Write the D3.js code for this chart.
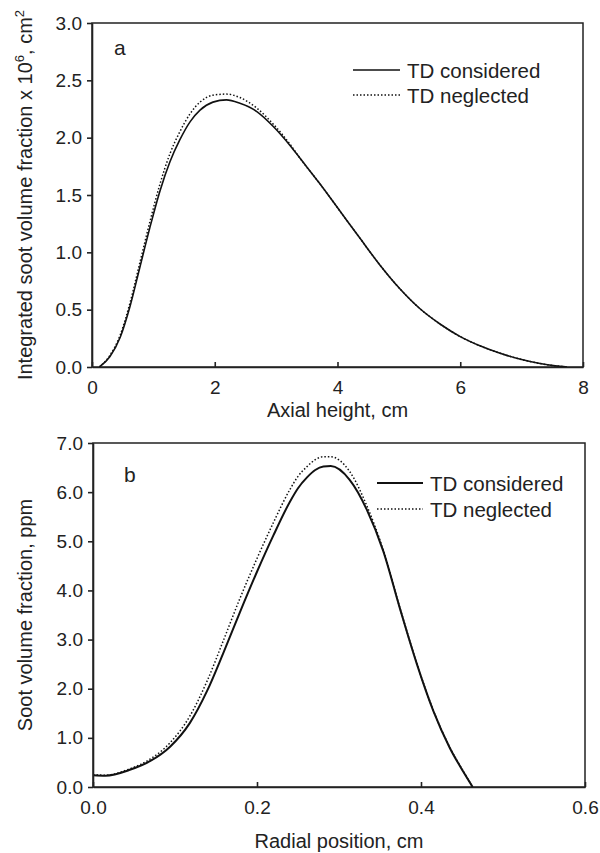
<!DOCTYPE html>
<html>
<head>
<meta charset="utf-8">
<script src="https://cdn.jsdelivr.net/npm/d3@7"></script>
<style>
  body { margin: 0; background: #fff; }
  svg { display: block; font-family: "Liberation Sans", Arial, sans-serif; }
  .axis text { fill: #222; font-size: 19px; }
  .axis path, .axis line { stroke: #222; stroke-width: 1.6; }
</style>
</head>
<body>
<svg width="600" height="853"></svg>
<script>
// panel a: integrated soot volume fraction vs axial height
var heightX = [0.12, 0.29, 0.46, 0.62, 0.78, 0.945, 1.11, 1.27, 1.43, 1.60, 1.76, 1.97, 2.19, 2.41, 2.68, 2.95, 3.23, 3.39, 3.71, 4.04, 4.37, 4.69, 5.02, 5.34, 5.67, 6.0, 6.32, 6.65, 7.0, 7.3, 7.55, 7.74];
var fvConsidered = [0, 0.09, 0.26, 0.53, 0.87, 1.22, 1.54, 1.79, 1.98, 2.14, 2.24, 2.31, 2.33, 2.30, 2.23, 2.10, 1.93, 1.82, 1.60, 1.36, 1.12, 0.89, 0.68, 0.51, 0.375, 0.265, 0.185, 0.12, 0.065, 0.03, 0.01, 0];
var fvNeglected  = [0, 0.10, 0.28, 0.56, 0.91, 1.27, 1.60, 1.86, 2.05, 2.21, 2.31, 2.37, 2.38, 2.35, 2.26, 2.12, 1.94, 1.82, 1.60, 1.36, 1.12, 0.89, 0.68, 0.51, 0.375, 0.265, 0.185, 0.12, 0.065, 0.03, 0.01, 0];

// panel b: soot volume fraction vs radial position
var radialX = [0, 0.015, 0.045, 0.07, 0.094, 0.118, 0.139, 0.159, 0.179, 0.20, 0.22, 0.24, 0.25, 0.261, 0.271, 0.281, 0.29, 0.313, 0.334, 0.354, 0.374, 0.395, 0.415, 0.435, 0.452, 0.463];
var ppmConsidered = [0.24, 0.23, 0.35, 0.53, 0.82, 1.30, 1.95, 2.73, 3.55, 4.38, 5.12, 5.80, 6.08, 6.30, 6.45, 6.52, 6.53, 6.25, 5.64, 4.80, 3.65, 2.50, 1.55, 0.80, 0.30, 0];
var ppmNeglected  = [0.25, 0.24, 0.37, 0.57, 0.90, 1.44, 2.15, 2.98, 3.83, 4.65, 5.38, 6.05, 6.32, 6.52, 6.66, 6.72, 6.72, 6.42, 5.72, 4.82, 3.66, 2.51, 1.56, 0.81, 0.31, 0];

var ticksA_x = [0, 2, 4, 6, 8];
var ticksA_y = [0, 0.5, 1.0, 1.5, 2.0, 2.5, 3.0];
var ticksB_x = [0, 0.2, 0.4, 0.6];
var ticksB_y = [0, 1, 2, 3, 4, 5, 6, 7];
var seriesNames = ["TD considered", "TD neglected"];

var svg = d3.select("svg");

function zip(xs, ys) {
  return xs.map(function(x, i) { return {x: x, y: ys[i]}; });
}

function panel(o) {
  var xScale = d3.scaleLinear().domain(o.xDomain).range([o.left, o.right]);
  var yScale = d3.scaleLinear().domain(o.yDomain).range([o.bottom, o.top]);

  var line = d3.line()
    .x(function(d) { return xScale(d.x); })
    .y(function(d) { return yScale(d.y); })
    .curve(d3.curveMonotoneX);

  // box
  svg.append("rect")
    .attr("x", o.left).attr("y", o.top)
    .attr("width", o.right - o.left).attr("height", o.bottom - o.top)
    .attr("fill", "none").attr("stroke", "#222").attr("stroke-width", 1.5);

  svg.append("path")
    .attr("d", line(zip(o.xs, o.y2)))
    .attr("fill", "none").attr("stroke", "#111")
    .attr("stroke-width", 1.5).attr("stroke-dasharray", "1.5,2");

  svg.append("path")
    .attr("d", line(zip(o.xs, o.y1)))
    .attr("fill", "none").attr("stroke", "#111")
    .attr("stroke-width", o.solidWidth);

  svg.append("g")
    .attr("class", "axis")
    .attr("transform", "translate(0," + o.bottom + ")")
    .call(d3.axisBottom(xScale).tickValues(o.xTicks).tickFormat(d3.format(o.xFormat))
      .tickSizeInner(-5).tickSizeOuter(0).tickPadding(14));

  svg.append("g")
    .attr("class", "axis")
    .attr("transform", "translate(" + o.left + ",0)")
    .call(d3.axisLeft(yScale).tickValues(o.yTicks).tickFormat(d3.format(".1f"))
      .tickSizeInner(5).tickSizeOuter(0).tickPadding(5));

  // panel letter
  svg.append("text")
    .attr("x", o.letterX).attr("y", o.letterY)
    .attr("font-size", 21).attr("fill", "#222")
    .text(o.letter);

  // legend
  seriesNames.forEach(function(name, i) {
    var ly = o.legendY + i * o.legendGap;
    svg.append("line")
      .attr("x1", o.legendX1).attr("x2", o.legendX2)
      .attr("y1", ly).attr("y2", ly)
      .attr("stroke", "#111")
      .attr("stroke-width", i === 0 ? o.solidWidth : 1.5)
      .attr("stroke-dasharray", i === 0 ? null : "1.5,2");
    svg.append("text")
      .attr("x", o.legendX2 + 7).attr("y", ly + 7.5)
      .attr("font-size", 20.5).attr("fill", "#222")
      .text(name);
  });

  // x axis title
  svg.append("text")
    .attr("x", (o.left + o.right) / 2).attr("y", o.xTitleY)
    .attr("text-anchor", "middle").attr("font-size", 20).attr("fill", "#222")
    .text(o.xTitle);

  return {x: xScale, y: yScale};
}

panel({
  left: 92, right: 583, top: 23, bottom: 367,
  xDomain: [0, 8], yDomain: [0, 3],
  xs: heightX, y1: fvConsidered, y2: fvNeglected,
  xTicks: ticksA_x, yTicks: ticksA_y, xFormat: "d",
  solidWidth: 1.6,
  letter: "a", letterX: 114, letterY: 55,
  legendX1: 353, legendX2: 400, legendY: 70, legendGap: 25,
  xTitle: "Axial height, cm", xTitleY: 417
});

panel({
  left: 93, right: 585, top: 443, bottom: 787,
  xDomain: [0, 0.6], yDomain: [0, 7],
  xs: radialX, y1: ppmConsidered, y2: ppmNeglected,
  xTicks: ticksB_x, yTicks: ticksB_y, xFormat: ".1f",
  solidWidth: 2,
  letter: "b", letterX: 124, letterY: 482,
  legendX1: 377, legendX2: 423, legendY: 483, legendGap: 26,
  xTitle: "Radial position, cm", xTitleY: 848
});

// y axis titles
var yTitleA = svg.append("text")
  .attr("transform", "translate(32," + ((23 + 367) / 2) + ") rotate(-90)")
  .attr("text-anchor", "middle").attr("font-size", 20).attr("fill", "#222");
yTitleA.append("tspan").text("Integrated soot volume fraction x 10");
yTitleA.append("tspan").attr("dy", -8).attr("font-size", 13).text("6");
yTitleA.append("tspan").attr("dy", 8).text(", cm");
yTitleA.append("tspan").attr("dy", -8).attr("font-size", 13).text("2");

svg.append("text")
  .attr("transform", "translate(32," + ((443 + 787) / 2) + ") rotate(-90)")
  .attr("text-anchor", "middle").attr("font-size", 20).attr("fill", "#222")
  .text("Soot volume fraction, ppm");
</script>
</body>
</html>
